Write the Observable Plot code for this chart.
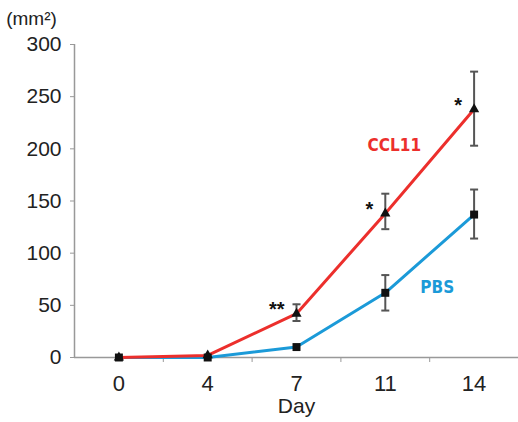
<!DOCTYPE html>
<html>
<head>
<meta charset="utf-8">
<script src="https://cdn.jsdelivr.net/npm/d3@7"></script>
<script src="https://cdn.jsdelivr.net/npm/@observablehq/plot@0.6"></script>
<style>
  html, body { margin: 0; padding: 0; background: #fff; }
  #chart svg { display: block; }
</style>
</head>
<body>
<div id="chart"></div>
<script>
// ---- data ----
const days = ["0", "4", "7", "11", "14"];
const ccl11 = [0, 2, 42, 138, 238];
const ccl11Lo = [null, null, 35, 123, 203];
const ccl11Hi = [null, null, 51, 157, 274];
const pbs = [0, 0, 10, 62, 137];
const pbsLo = [null, null, null, 45, 114];
const pbsHi = [null, null, null, 79, 161];
const sig = ["", "", "**", "*", "*"];
const yTicks = [0, 50, 100, 150, 200, 250, 300];
const seriesNames = ["CCL11", "PBS"];
const xTitle = "Day";
const yTitle = "(mm\u00b2)";

const RED = "#ec2f2c";
const BLUE = "#1b9ad8";
const INK = "#222";

const rows = (vals, lo, hi, name) => days.map((d, i) => ({i, day: d, v: vals[i], lo: lo[i], hi: hi[i], name}));
const cRows = rows(ccl11, ccl11Lo, ccl11Hi, seriesNames[0]);
const pRows = rows(pbs, pbsLo, pbsHi, seriesNames[1]);
const cErr = cRows.filter(d => d.lo != null);
const pErr = pRows.filter(d => d.lo != null);

const capSymbol = {
  draw(ctx, size) {
    const r = Math.sqrt(size / Math.PI);
    ctx.moveTo(-r, 0);
    ctx.lineTo(r, 0);
  }
};

const labelFont = "'Liberation Sans Narrow', 'DejaVu Sans Condensed', sans-serif";

const chart = Plot.plot({
  width: 518,
  height: 422,
  marginLeft: 74,
  marginRight: 0,
  marginTop: 44,
  marginBottom: 65,
  style: {fontFamily: "'Liberation Sans', Arial, sans-serif", color: INK, background: "#fff"},
  x: {type: "linear", domain: [-0.5, days.length - 0.5]},
  y: {domain: [0, 300]},
  marks: [
    // axis lines
    Plot.ruleX([-0.5], {stroke: "#999", strokeWidth: 1.5}),
    Plot.ruleY([0], {stroke: "#999", strokeWidth: 1.5}),
    // y axis
    Plot.axisY({ticks: yTicks, tickSize: 4, tickPadding: 9, fontSize: 21, stroke: "#999", label: null}),
    // x boundary ticks
    Plot.axisX({ticks: d3.range(0.5, days.length - 1, 1), tickSize: 5, tickFormat: () => "", stroke: "#999", label: null}),
    // x labels
    Plot.axisX({ticks: d3.range(days.length), tickSize: 0, tickPadding: 18, tickFormat: i => days[i], fontSize: 22, label: null}),
    Plot.text([xTitle], {frameAnchor: "bottom", dx: 0, dy: 49, fontSize: 21, fill: INK, lineAnchor: "middle"}),
    Plot.text([yTitle], {frameAnchor: "top-left", dx: -43, dy: -26, fontSize: 19, fill: INK, textAnchor: "middle", lineAnchor: "middle"}),
    // lines
    Plot.line(pRows, {x: "i", y: "v", stroke: BLUE, strokeWidth: 3, curve: "linear"}),
    Plot.line(cRows, {x: "i", y: "v", stroke: RED, strokeWidth: 3, curve: "linear"}),
    // error bars
    Plot.ruleX(cErr, {x: "i", y1: "lo", y2: "hi", stroke: "#555", strokeWidth: 2}),
    Plot.ruleX(pErr, {x: "i", y1: "lo", y2: "hi", stroke: "#555", strokeWidth: 2}),
    Plot.dot(cErr, {x: "i", y: "lo", symbol: capSymbol, r: 4, stroke: "#555", strokeWidth: 2}),
    Plot.dot(cErr, {x: "i", y: "hi", symbol: capSymbol, r: 4, stroke: "#555", strokeWidth: 2}),
    Plot.dot(pErr, {x: "i", y: "lo", symbol: capSymbol, r: 4, stroke: "#555", strokeWidth: 2}),
    Plot.dot(pErr, {x: "i", y: "hi", symbol: capSymbol, r: 4, stroke: "#555", strokeWidth: 2}),
    // markers
    Plot.dot(pRows, {x: "i", y: "v", symbol: "square", r: 4.5, fill: "#111"}),
    Plot.dot(cRows, {x: "i", y: "v", symbol: "triangle", r: 3.8, fill: "#111"}),
    // significance stars
    Plot.text(cRows.filter(d => sig[d.i]), {x: "i", y: "v", text: d => sig[d.i], dx: -12, dy: -4, fontSize: 20, fontWeight: "bold", fill: "#111", textAnchor: "end"}),
    // series labels
    Plot.text(cRows.filter(d => d.i === 3), {x: "i", y: "v", text: "name", dx: 9, dy: -68, fontSize: 17, fontWeight: "bold", fill: RED, textAnchor: "middle", fontFamily: labelFont}),
    Plot.text(pRows.filter(d => d.i === 3), {x: "i", y: "v", text: "name", dx: 35, dy: -5, fontSize: 17, fontWeight: "bold", fill: BLUE, textAnchor: "start", fontFamily: labelFont})
  ]
});
document.getElementById("chart").appendChild(chart);
</script>
</body>
</html>
